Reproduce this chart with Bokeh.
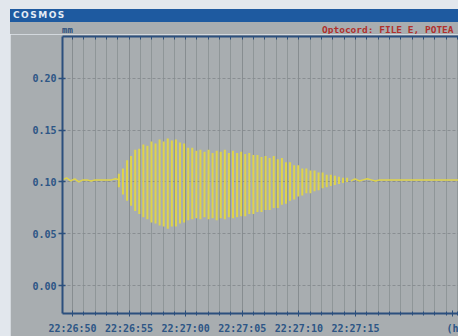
from bokeh.plotting import figure
from bokeh.models import (LinearAxis, FixedTicker, NumeralTickFormatter,
                          Div, ColumnDataSource, Range1d)
from bokeh.layouts import column
from bokeh.embed import file_html
from bokeh.resources import INLINE

# ---------------- data ----------------
title_text = "COSMOS"
unit_text = "mm"
header_text = "Optocord: FILE E, POTEA"
time_labels = ["22:26:50", "22:26:55", "22:27:00", "22:27:05", "22:27:10", "22:27:15"]
label_step_s = 5
time_unit_text = "(h"
y_ticks = [0.00, 0.05, 0.10, 0.15, 0.20]

# flat signal before the tremor burst (seconds after 22:26:50, step 0.36 s)
pre_start_s = -0.88
pre_mm = [0.102, 0.104, 0.101, 0.103, 0.100, 0.102, 0.102, 0.101, 0.102, 0.102,
          0.102, 0.102, 0.102, 0.103, 0.102]

# tremor burst: one stroke per cycle, top and bottom of each stroke
osc_start_s = 4.1
osc_step_s = 0.36
upper_mm = [0.108, 0.113, 0.121, 0.125, 0.131, 0.132, 0.136, 0.135, 0.139, 0.137,
            0.141, 0.139, 0.142, 0.140, 0.141, 0.138, 0.137, 0.133, 0.133, 0.130,
            0.131, 0.129, 0.131, 0.128, 0.130, 0.129, 0.131, 0.128, 0.130, 0.128,
            0.129, 0.127, 0.128, 0.126, 0.126, 0.124, 0.125, 0.123, 0.125, 0.122,
            0.123, 0.119, 0.119, 0.116, 0.116, 0.113, 0.113, 0.111, 0.111, 0.109,
            0.109, 0.107, 0.107, 0.106, 0.105, 0.104, 0.104]
lower_mm = [0.095, 0.088, 0.082, 0.077, 0.072, 0.069, 0.066, 0.064, 0.061, 0.060,
            0.058, 0.057, 0.055, 0.057, 0.057, 0.060, 0.061, 0.063, 0.064, 0.065,
            0.064, 0.066, 0.064, 0.065, 0.063, 0.065, 0.064, 0.066, 0.065, 0.066,
            0.067, 0.067, 0.069, 0.069, 0.071, 0.071, 0.073, 0.073, 0.075, 0.075,
            0.078, 0.079, 0.082, 0.083, 0.086, 0.087, 0.089, 0.089, 0.091, 0.092,
            0.094, 0.095, 0.096, 0.097, 0.098, 0.099, 0.100]

# flat signal after the burst
post_start_s = 24.6
post_mm = [0.101, 0.103, 0.101, 0.102, 0.103, 0.102, 0.101, 0.102, 0.102, 0.102,
           0.102, 0.102, 0.102, 0.102, 0.102, 0.102, 0.102, 0.102, 0.102, 0.102,
           0.102, 0.102, 0.102, 0.102, 0.102, 0.102, 0.102, 0.102]
sample_step_s = 0.36

# ---------------- styles / layout ----------------
PAGE = "#e2e7ed"
BG = "#a8adb0"
BAR = "#1e5aa0"
AXIS = "#2b4f7d"
TICKTXT = "#2d5686"
GRID = "#858b8f"
SIG = "#dfd44a"
RED = "#b0302c"
MONO = "DejaVu Sans Mono"

X0, X1 = -0.88, 34.1
Y0, Y1 = -0.0268, 0.2402
UNIT_TICK_S = 33.6
LEFT_GAP = 10
FIG_W = 448

# ---------------- sources ----------------
pre_src = ColumnDataSource(dict(
    t=[pre_start_s + i * sample_step_s for i in range(len(pre_mm))], v=pre_mm))
post_src = ColumnDataSource(dict(
    t=[post_start_s + i * sample_step_s for i in range(len(post_mm))], v=post_mm))
osc_src = ColumnDataSource(dict(
    t=[osc_start_s + i * osc_step_s for i in range(len(upper_mm))],
    hi=upper_mm, lo=lower_mm))

major_x = [i * label_step_s for i in range(len(time_labels))]
minor_x = list(range(0, int(X1) + 1))

p = figure(width=FIG_W, height=302, x_range=Range1d(X0, X1), y_range=Range1d(Y0, Y1),
           output_backend="svg", toolbar_location=None,
           min_border_left=52, min_border_right=0, min_border_top=2, min_border_bottom=21,
           background_fill_color=BG, border_fill_color=BG, outline_line_color=None,
           margin=(0, 0, 0, LEFT_GAP))

# bottom axis
overrides = {float(t): lab for t, lab in zip(major_x, time_labels)}
overrides[UNIT_TICK_S] = time_unit_text
xa = p.xaxis[0]
xa.ticker = FixedTicker(ticks=major_x + [UNIT_TICK_S], minor_ticks=minor_x)
xa.major_label_overrides = overrides
xa.axis_line_color = AXIS
xa.axis_line_width = 2
xa.major_tick_line_color = AXIS
xa.minor_tick_line_color = AXIS
xa.major_tick_out = 3
xa.major_tick_in = 3
xa.minor_tick_out = 2
xa.minor_tick_in = 2
xa.major_label_standoff = 6
xa.major_label_text_font = MONO
xa.major_label_text_font_style = "bold"
xa.major_label_text_font_size = "10px"
xa.major_label_text_color = TICKTXT

# left axis
ya = p.yaxis[0]
ya.ticker = FixedTicker(ticks=y_ticks, minor_ticks=[])
ya.formatter = NumeralTickFormatter(format="0.00")
ya.axis_line_color = AXIS
ya.axis_line_width = 2
ya.major_tick_line_color = AXIS
ya.major_tick_line_width = 1.5
ya.major_tick_out = 4
ya.major_tick_in = 3
ya.minor_tick_line_color = None
ya.major_label_standoff = 2
ya.major_label_text_font = MONO
ya.major_label_text_font_style = "bold"
ya.major_label_text_font_size = "10px"
ya.major_label_text_color = TICKTXT

# top axis: line with small inward ticks only (no labels)
top = LinearAxis(ticker=FixedTicker(ticks=[], minor_ticks=minor_x),
                 axis_line_color=AXIS, axis_line_width=2,
                 major_tick_line_color=AXIS, minor_tick_line_color=AXIS,
                 major_tick_in=3, major_tick_out=0, minor_tick_in=3, minor_tick_out=0,
                 major_label_standoff=0)
p.add_layout(top, "above")

# grids
p.xgrid.ticker = FixedTicker(ticks=major_x, minor_ticks=minor_x)
p.xgrid.grid_line_color = GRID
p.xgrid.grid_line_alpha = 0.8
p.xgrid.minor_grid_line_color = GRID
p.xgrid.minor_grid_line_alpha = 0.7
p.ygrid.ticker = FixedTicker(ticks=y_ticks)
p.ygrid.grid_line_color = GRID
p.ygrid.grid_line_dash = "3 2"
p.ygrid.grid_line_alpha = 0.9

# signal
p.line("t", "v", source=pre_src, line_color=SIG, line_width=1.5)
p.line("t", "v", source=post_src, line_color=SIG, line_width=1.5)
p.segment(x0="t", y0="lo", x1="t", y1="hi", source=osc_src, line_color=SIG, line_width=2)

# title bar
bar = Div(text=title_text, width=FIG_W, height=13, margin=(9, 0, 0, LEFT_GAP),
          styles={"background-color": BAR, "color": "#e4ecf5",
                  "font-family": "DejaVu Sans", "font-weight": "bold",
                  "font-size": "9px", "letter-spacing": "1.5px",
                  "line-height": "13px", "padding-left": "3px",
                  "box-sizing": "border-box", "overflow": "hidden"})

# header row: unit label and red file caption
row_html = (
    f'<div style="background:{BG};width:{FIG_W}px;height:12px;white-space:nowrap;'
    f'overflow:hidden;line-height:14px;font-family:{MONO};font-weight:bold">'
    f'<span style="display:inline-block;width:52px"></span>'
    f'<span style="display:inline-block;width:260px;color:{AXIS};font-size:9px">{unit_text}</span>'
    f'<span style="color:{RED};font-size:9.5px">{header_text}</span>'
    f'</div>'
)
head = Div(text=row_html, width=FIG_W, height=12, margin=(0, 0, 0, LEFT_GAP),
           styles={"background-color": BG, "overflow": "hidden"})

layout = column(bar, head, p, spacing=0, width=458, height=336,
                styles={"background-color": PAGE})
open("out.html", "w").write(file_html(layout, INLINE))
